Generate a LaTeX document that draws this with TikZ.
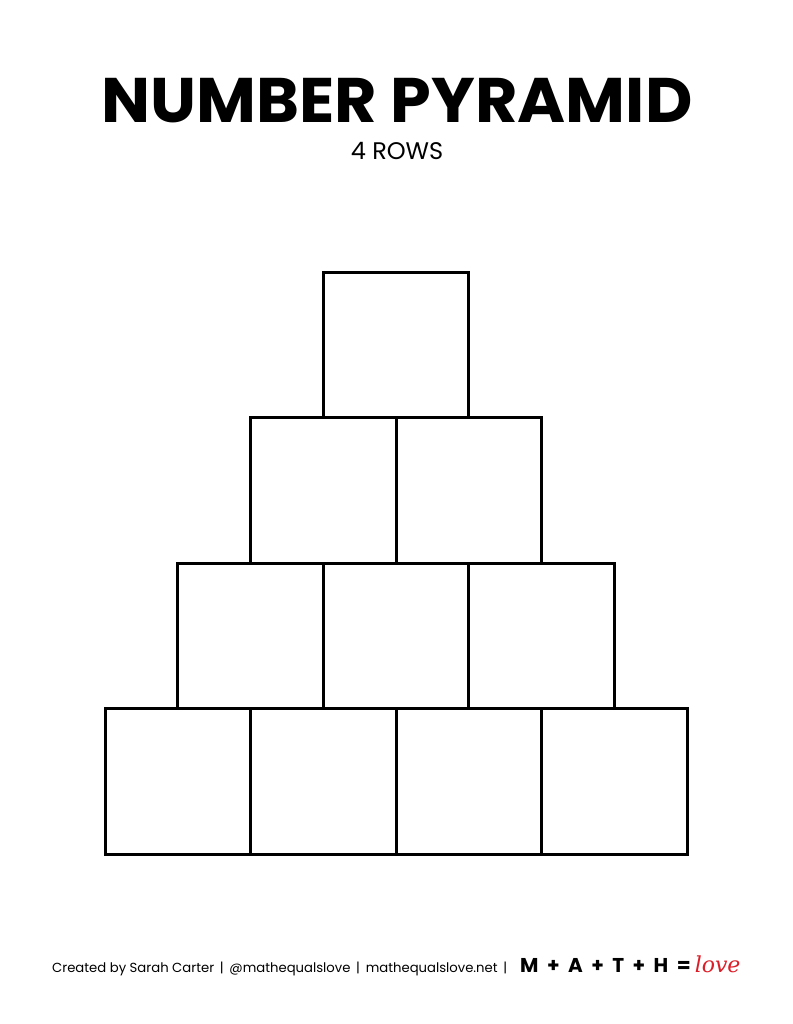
\documentclass[tikz,border=0pt]{standalone}
\usepackage{fontspec}
\setmainfont{Poppins}
\newfontfamily\titlefont{Poppins}[UprightFont=* Bold]
\newfontfamily\lovefont{DejaVu Serif}
\definecolor{lovered}{RGB}{220,30,40}
\tikzset{
    cell/.style={draw=black, line width=3pt, minimum size=145.5pt, inner sep=0pt},
    footnote/.style={anchor=base west, inner sep=0pt, font=\fontsize{13.2}{15}\selectfont}
}
\begin{document}
\begin{tikzpicture}[x=1pt,y=-1pt]
    \useasboundingbox[fill=white] (0,0) rectangle (792,1024);
% title
    \node[font=\titlefont\fontsize{63}{70}\selectfont, xscale=1.035] (title) at (397,101) {NUMBER PYRAMID};
    \node[font=\fontsize{24}{28}\selectfont] (subtitle) at (397,151) {4 ROWS};
% pyramid, row r has r cells
    \foreach \r in {1,...,4}
        \foreach \k in {1,...,\r}
    \node[cell] (c\r\k) at ({396+(\k-(\r+1)/2)*145.5},{272+(\r-0.5)*145.5}) {};
% footer
    \node[footnote] (credit) at (52,972) {Created by Sarah Carter \,|\, @mathequalslove \,|\, mathequalslove.net \,|};
    \node[anchor=base west, inner sep=0pt, font=\titlefont\fontsize{20}{22}\selectfont] (math) at (520,972) {M~~+~~A~~+~~T~~+~~H~~=};
    \node[anchor=base west, inner sep=0pt, text=lovered, font=\lovefont\itshape\fontsize{22}{24}\selectfont] (love) at (math.base east) {\,love};
\end{tikzpicture}
\end{document}
